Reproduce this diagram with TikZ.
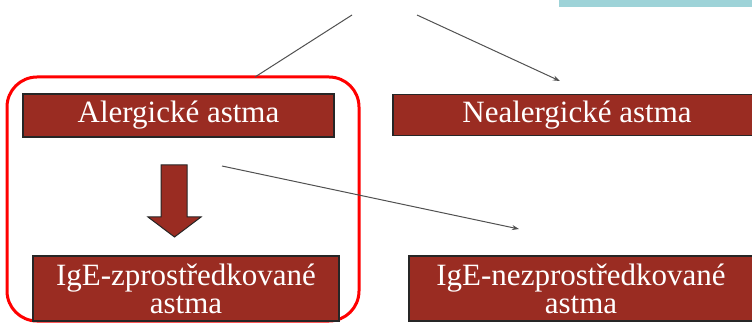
\documentclass[tikz,border=0pt]{standalone}
\usepackage{fontspec}
\setmainfont{Liberation Serif}
\usetikzlibrary{arrows.meta}
\definecolor{boxred}{RGB}{154,44,34}
\definecolor{topcyan}{RGB}{158,211,216}
\definecolor{linegrey}{RGB}{80,80,80}
\tikzset{
  redbox/.style={draw=black!85, line width=1.2pt, fill=boxred, text=white, inner sep=0pt,
    font=\fontsize{31}{28}\selectfont, align=center},
  conn/.style={draw=linegrey, line width=1pt},
  connarrow/.style={conn, -{Stealth[length=7pt,width=5pt]}},
  group/.style={draw=red, line width=3pt, rounded corners=30pt, inner sep=0pt},
  blockarrow/.style={draw=black!85, line width=1pt, fill=boxred}
}
\begin{document}
\begin{tikzpicture}[x=1pt,y=-1pt]
\useasboundingbox (0,0) rectangle (752,323);
\fill[topcyan] (559,0) rectangle (752,7);

\node[group, minimum width=352pt, minimum height=244pt] (grp) at (183,199) {};

\node[redbox, minimum width=311pt, minimum height=43pt] (aler) at (178.5,115.5) {Alergické astma};
\node[redbox, minimum width=368pt, minimum height=41pt] (neal) at (577,115) {Nealergické astma};
\node[redbox, minimum width=306pt, minimum height=65pt] (igez) at (186,288.5) {IgE-zprostředkované\\astma};
\node[redbox, minimum width=344pt, minimum height=65pt] (igen) at (581,288.5) {IgE-nezprostředkované\\astma};

\coordinate (s1) at (352,15);
\coordinate (e1) at (255,77);
\coordinate (s2) at (417,15);
\coordinate (e2) at (560,81);
\coordinate (s3) at (222,166);
\coordinate (e3) at (519,229);

\draw[conn] (s1) -- (e1);
\draw[connarrow] (s2) -- (e2);
\draw[connarrow] (s3) -- (e3);

\draw[blockarrow] (161,165) -- (187,165) -- (187,217) -- (201,217) -- (174.5,237) -- (148,217) -- (161,217) -- cycle;
\end{tikzpicture}
\end{document}
